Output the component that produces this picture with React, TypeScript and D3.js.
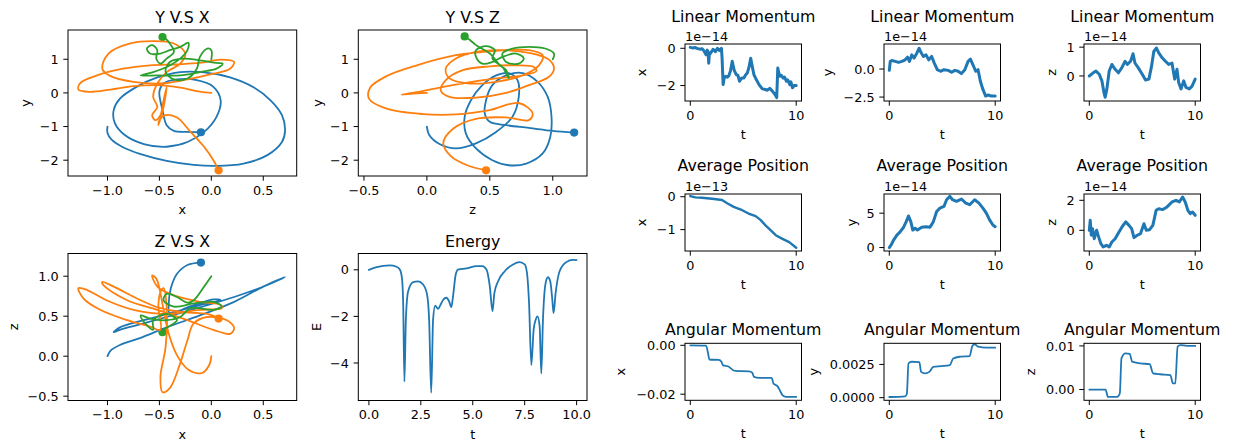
import React from "react";
import * as d3 from "d3";

type P = [number, number];

const BLUE = "#1f77b4";
const ORANGE = "#ff7f0e";
const GREEN = "#2ca02c";

// trajectories, last point = final position (dot)
// Y vs X  -> [x, y]
const blueXY: P[] = [[-1, -1], [-1.0, -1.19], [-0.96, -1.39], [-0.86, -1.6], [-0.68, -1.82], [-0.43, -2.02], [-0.17, -2.14], [0.05, -2.17], [0.31, -2.1], [0.54, -1.85], [0.68, -1.46], [0.71, -1.11], [0.68, -0.66], [0.57, -0.22], [0.41, 0.16], [0.18, 0.46], [-0.07, 0.61], [-0.3, 0.62], [-0.52, 0.46], [-0.72, 0.18], [-0.88, -0.17], [-0.94, -0.51], [-0.93, -0.89], [-0.83, -1.26], [-0.65, -1.52], [-0.43, -1.6], [-0.23, -1.46], [-0.07, -1.16], [0.05, -0.71], [0.09, -0.22], [0.02, 0.18], [-0.14, 0.38], [-0.33, 0.4], [-0.46, 0.28], [-0.5, 0.03], [-0.47, -0.51], [-0.43, -0.96], [-0.36, -1.13], [-0.23, -1.16], [-0.1, -1.17]];
const orangeXY: P[] = [[0, 0], [-0.11, 0.04], [-0.3, 0.16], [-0.52, 0.23], [-0.75, 0.2], [-0.97, 0.1], [-1.17, 0.03], [-1.28, 0.1], [-1.26, 0.3], [-1.1, 0.52], [-0.85, 0.72], [-0.59, 0.82], [-0.33, 0.85], [-0.11, 0.89], [0.09, 0.99], [0.22, 0.92], [0.18, 0.72], [0.02, 0.57], [-0.23, 0.4], [-0.49, 0.28], [-0.75, 0.33], [-0.97, 0.5], [-1.05, 0.72], [-0.99, 1.17], [-0.78, 1.47], [-0.56, 1.54], [-0.36, 1.47], [-0.25, 1.17], [-0.3, 0.87], [-0.43, 0.62], [-0.52, 0.28], [-0.56, -0.12], [-0.52, -0.42], [-0.57, -0.66], [-0.54, -0.81], [-0.49, -0.66], [-0.46, -0.22], [-0.43, 0.18], [-0.46, -0.42], [-0.51, -0.96], [-0.5, -0.81], [-0.44, -0.66], [-0.33, -0.73], [-0.2, -1.16], [-0.07, -1.6], [0.02, -2.0], [0.07, -2.3]];
const greenXY: P[] = [[0, 1], [0, 1.27], [-0.04, 1.32], [-0.11, 1.07], [-0.14, 0.72], [-0.23, 0.43], [-0.36, 0.4], [-0.44, 0.62], [-0.4, 0.92], [-0.27, 1.02], [-0.11, 0.97], [0.05, 0.89], [0.11, 0.87], [0.05, 0.72], [-0.11, 0.62], [-0.3, 0.52], [-0.52, 0.52], [-0.68, 0.52], [-0.56, 0.62], [-0.43, 0.77], [-0.3, 1.02], [-0.23, 1.27], [-0.22, 1.49], [-0.3, 1.37], [-0.4, 1.27], [-0.49, 1.17], [-0.59, 1.17], [-0.62, 1.32], [-0.57, 1.42], [-0.52, 1.27], [-0.53, 1.02], [-0.49, 0.87], [-0.43, 1.02], [-0.36, 1.22], [-0.4, 1.47], [-0.44, 1.61], [-0.47, 1.66]];

// Y vs Z -> [z, y]
const blueZY: P[] = [[0, -1], [0.02, -1.26], [0.1, -1.52], [0.23, -1.65], [0.39, -1.5], [0.55, -1.16], [0.68, -0.71], [0.73, -0.12], [0.72, 0.38], [0.65, 0.59], [0.55, 0.52], [0.44, 0.23], [0.35, -0.22], [0.3, -0.71], [0.31, -1.21], [0.39, -1.65], [0.52, -2.0], [0.65, -2.15], [0.79, -2.1], [0.92, -1.8], [0.98, -1.31], [0.99, -0.71], [0.96, -0.12], [0.88, 0.33], [0.76, 0.59], [0.63, 0.52], [0.52, 0.23], [0.47, -0.22], [0.46, -0.61], [0.5, -0.86], [0.63, -0.96], [0.81, -1.04], [1.0, -1.13], [1.17, -1.18]];
const orangeZY: P[] = [[0, 0], [-0.08, -0.01], [-0.2, -0.05], [-0.08, 0.02], [0.1, 0.16], [0.31, 0.3], [0.55, 0.43], [0.76, 0.52], [0.87, 0.65], [0.85, 0.77], [0.71, 0.82], [0.5, 0.79], [0.28, 0.67], [0.15, 0.38], [0.11, 0.08], [0.18, -0.12], [0.39, -0.14], [0.63, 0], [0.81, 0.23], [0.97, 0.48], [1.01, 0.72], [0.97, 0.99], [0.81, 1.19], [0.6, 1.27], [0.39, 1.22], [0.23, 1.02], [0.15, 0.72], [0.18, 0.43], [0.34, 0.28], [0.55, 0.33], [0.76, 0.52], [0.89, 0.82], [0.92, 1.12], [0.81, 1.27], [0.55, 1.25], [0.23, 1.12], [-0.08, 0.82], [-0.32, 0.5], [-0.45, 0.16], [-0.46, -0.17], [-0.32, -0.47], [-0.03, -0.63], [0.23, -0.64], [0.5, -0.51], [0.73, -0.3], [0.84, -0.61], [0.81, -0.81], [0.63, -0.73], [0.39, -0.77], [0.21, -1.06], [0.13, -1.5], [0.19, -1.88], [0.32, -2.15], [0.47, -2.3]];
const greenZY: P[] = [[1, 1], [1.01, 1.17], [0.94, 1.32], [0.81, 1.37], [0.68, 1.32], [0.6, 1.17], [0.63, 0.92], [0.73, 0.87], [0.77, 1.02], [0.71, 1.17], [0.6, 1.07], [0.52, 0.92], [0.44, 0.87], [0.39, 1.07], [0.39, 1.27], [0.47, 1.39], [0.54, 1.27], [0.52, 1.02], [0.6, 0.77], [0.65, 0.43], [0.63, 0.67], [0.58, 0.82], [0.5, 1.17], [0.39, 1.42], [0.34, 1.58], [0.3, 1.68]];

// Z vs X -> [x, z]
const blueXZ: P[] = [[-1, 0], [-0.97, 0.07], [-0.88, 0.14], [-0.68, 0.23], [-0.43, 0.36], [-0.11, 0.51], [0.22, 0.68], [0.5, 0.87], [0.71, 0.99], [0.54, 0.89], [0.22, 0.74], [-0.11, 0.61], [-0.43, 0.49], [-0.68, 0.4], [-0.88, 0.33], [-0.94, 0.3], [-0.88, 0.36], [-0.65, 0.45], [-0.36, 0.55], [-0.11, 0.64], [0.09, 0.7], [0.02, 0.71], [-0.23, 0.61], [-0.4, 0.53], [-0.41, 0.66], [-0.39, 0.85], [-0.33, 1.03], [-0.23, 1.14], [-0.1, 1.17]];
const orangeXZ: P[] = [[0, 0], [-0.02, -0.11], [-0.09, -0.21], [-0.22, -0.17], [-0.33, 0.01], [-0.41, 0.28], [-0.46, 0.58], [-0.5, 0.85], [-0.53, 0.97], [-0.57, 1.01], [-0.52, 0.87], [-0.36, 0.76], [-0.11, 0.68], [0.09, 0.64], [0.1, 0.6], [-0.11, 0.58], [-0.43, 0.53], [-0.75, 0.58], [-1.01, 0.7], [-1.2, 0.83], [-1.28, 0.85], [-1.23, 0.72], [-1.07, 0.58], [-0.81, 0.45], [-0.59, 0.37], [-0.49, 0.33], [-0.51, 0.62], [-0.49, 0.8], [-0.46, 0.85], [-0.43, 0.62], [-0.44, 0.12], [-0.49, -0.26], [-0.47, -0.45], [-0.4, -0.4], [-0.3, -0.09], [-0.23, 0.2], [-0.17, 0.41], [-0.04, 0.49], [0.15, 0.45], [0.22, 0.35], [0.18, 0.28], [0.02, 0.33], [-0.23, 0.45], [-0.52, 0.58], [-0.81, 0.7], [-1.04, 0.89], [-1.05, 0.93], [-0.94, 0.87], [-0.68, 0.7], [-0.49, 0.6], [-0.27, 0.55], [-0.04, 0.53], [0.05, 0.49], [0.07, 0.47]];
const greenXZ: P[] = [[0, 1], [-0.07, 0.87], [-0.17, 0.7], [-0.23, 0.67], [-0.33, 0.74], [-0.43, 0.78], [-0.46, 0.7], [-0.36, 0.62], [-0.17, 0.66], [0.02, 0.68], [0.1, 0.62], [0.02, 0.58], [-0.2, 0.6], [-0.3, 0.49], [-0.43, 0.45], [-0.59, 0.47], [-0.68, 0.51], [-0.65, 0.43], [-0.56, 0.33], [-0.56, 0.45], [-0.43, 0.53], [-0.33, 0.45], [-0.36, 0.41], [-0.46, 0.33], [-0.47, 0.3]];

// energy
const energyT = [0, 0.37, 1.0, 1.33, 1.49, 1.59, 1.65, 1.71, 1.78, 1.89, 2.13, 2.37, 2.61, 2.8, 2.9, 3.0, 3.09, 3.19, 3.33, 3.45, 3.62, 3.73, 3.86, 3.97, 4.05, 4.18, 4.29, 4.7, 5.18, 5.46, 5.66, 5.82, 5.95, 6.04, 6.22, 6.54, 6.94, 7.26, 7.5, 7.61, 7.71, 7.82, 7.93, 8.03, 8.12, 8.22, 8.3, 8.38, 8.51, 8.62, 8.73, 8.83, 8.89, 8.99, 9.18, 9.5, 9.82, 10];
const energyE = [0, 0.12, 0.19, 0.13, 0.01, -0.35, -1.42, -4.8, -2.14, -0.92, -0.53, -0.5, -0.63, -1.06, -2.14, -5.28, -2.14, -1.54, -1.68, -1.5, -1.24, -1.2, -1.35, -1.6, -1.14, -0.2, 0.01, 0.06, 0.16, 0.16, 0.01, -0.7, -1.78, -1.0, -0.49, -0.06, 0.23, 0.33, 0.23, -0.13, -1.42, -4.09, -2.58, -2.14, -2.0, -2.43, -4.45, -2.14, -0.56, -0.32, -0.49, -1.28, -1.86, -0.99, -0.06, 0.33, 0.43, 0.42];

// linear momentum [t, value / 1e-14]
const linMomX: P[] = [[0, 0.05], [0.2, 0.02], [0.47, 0.04], [0.7, -0.02], [0.95, -0.05], [1.1, -0.02], [1.27, -0.12], [1.49, -0.35], [1.6, -0.1], [1.68, -0.18], [1.74, -0.8], [1.8, -0.3], [1.9, -0.27], [2.15, -0.05], [2.37, -0.18], [2.56, 0], [2.75, -0.12], [2.94, 0], [3.0, -0.5], [3.1, -1.95], [3.2, -1.6], [3.32, -1.5], [3.5, -1.55], [3.64, -1.47], [3.8, -1.2], [3.96, -0.7], [4.15, -1.19], [4.34, -1.42], [4.5, -1.45], [4.65, -1.77], [4.85, -1.6], [5.06, -1.6], [5.2, -1.45], [5.38, -1.33], [5.55, -1.0], [5.7, -0.53], [5.85, -0.97], [6.01, -1.42], [6.23, -1.68], [6.49, -1.95], [6.8, -2.18], [7.0, -2.2], [7.28, -2.25], [7.5, -2.15], [7.75, -2.3], [8.0, -2.48], [8.16, -2.65], [8.26, -1.06], [8.35, -1.3], [8.45, -1.5], [8.6, -1.45], [8.77, -1.6], [8.9, -1.55], [9.08, -1.77], [9.2, -1.7], [9.4, -1.95], [9.5, -1.8], [9.65, -2.12], [9.8, -2.0], [10, -2.0]];
const linMomY: P[] = [[0, -0.12], [0.09, 0.68], [0.25, 0.76], [0.56, 0.68], [0.875, 0.59], [1.19, 0.68], [1.5, 0.82], [1.72, 1.06], [1.9, 0.68], [2.12, 1.26], [2.34, 0.97], [2.6, 1.41], [2.81, 1.85], [3.0, 1.47], [3.22, 1.12], [3.47, 1.26], [3.72, 0.82], [4.0, 1.12], [4.25, 0.53], [4.53, -0.06], [4.84, -0.2], [5.16, -0.06], [5.56, -0.12], [5.88, -0.29], [6.19, -0.12], [6.5, -0.2], [6.81, -0.41], [7.13, -0.06], [7.44, 0.68], [7.66, 0.88], [7.9, 0.38], [8.16, -0.2], [8.38, -0.06], [8.6, -1.09], [8.84, -1.82], [9.1, -2.41], [9.3, -2.32], [9.63, -2.41], [10, -2.41]];
const linMomZ: P[] = [[0, 0], [0.31, 0.09], [0.63, 0.17], [0.94, 0.06], [1.19, -0.17], [1.38, -0.57], [1.5, -0.74], [1.66, -0.45], [1.88, 0.17], [2.13, 0.4], [2.44, 0.23], [2.75, 0.11], [3.06, 0.28], [3.38, 0.51], [3.59, 0.4], [3.9, 0.51], [4.13, 0.77], [4.31, 0.45], [4.63, 0.28], [5.0, 0.06], [5.31, -0.14], [5.63, -0.11], [5.88, 0.34], [6.09, 0.85], [6.34, 0.97], [6.56, 0.8], [6.88, 0.63], [7.19, 0.51], [7.5, 0.4], [7.81, 0.45], [8.06, -0.11], [8.28, 0.23], [8.44, -0.23], [8.66, -0.45], [8.91, -0.17], [9.13, -0.4], [9.44, -0.45], [9.69, -0.36], [10, -0.11]];

// average position [t, value / 1e-13 or 1e-14]
const avgPosX: P[] = [[0, 0.02], [0.47, -0.02], [1.1, -0.03], [2.06, -0.06], [3.0, -0.1], [3.48, -0.2], [4.1, -0.31], [4.9, -0.41], [5.5, -0.51], [6.17, -0.59], [6.65, -0.71], [7.1, -0.87], [7.6, -1.02], [8.07, -1.17], [8.7, -1.28], [9.34, -1.38], [10, -1.55]];
const avgPosY: P[] = [[0, 0], [0.16, 0.34], [0.4, 1.08], [0.72, 1.81], [1.03, 2.3], [1.34, 2.94], [1.6, 3.77], [1.81, 4.6], [2.03, 3.77], [2.22, 2.55], [2.44, 2.8], [2.66, 2.55], [3.06, 2.94], [3.47, 3.04], [3.84, 2.94], [4.16, 3.77], [4.47, 5.25], [4.78, 5.74], [5.16, 5.98], [5.41, 6.96], [5.72, 7.45], [5.97, 6.96], [6.34, 6.72], [6.81, 7.06], [7.22, 6.47], [7.59, 6.23], [8.06, 6.96], [8.47, 6.47], [8.84, 5.74], [9.16, 5.0], [9.47, 4.02], [9.78, 3.28], [10, 3.04]];
const avgPosZ: P[] = [[0, 0], [0.09, 0.67], [0.19, -0.33], [0.31, 0.11], [0.47, -0.56], [0.69, 0], [0.88, -0.44], [1.09, -0.89], [1.31, -1.11], [1.63, -1.0], [1.88, -1.11], [2.13, -0.78], [2.44, -0.56], [2.75, -0.18], [3.13, 0.27], [3.44, 0.56], [3.75, 0.33], [4.0, 0.11], [4.22, -0.49], [4.53, -0.33], [4.84, -0.22], [5.16, 0.44], [5.38, 0], [5.69, 0.04], [6.0, 0.33], [6.31, 1.33], [6.56, 1.44], [6.94, 1.38], [7.34, 1.56], [7.81, 1.89], [8.19, 2.0], [8.5, 1.89], [8.81, 2.22], [9.06, 1.89], [9.31, 1.33], [9.53, 1.11], [9.75, 1.22], [10, 1.0]];

// angular momentum [t, value]
const angMomX: P[] = [[0, 0], [1.49, -0.0001], [1.68, -0.0033], [1.8, -0.0058], [2.69, -0.006], [2.94, -0.0067], [3.07, -0.0081], [3.64, -0.0088], [4.02, -0.0101], [4.27, -0.0105], [5.54, -0.0107], [5.85, -0.0112], [6.01, -0.0129], [6.49, -0.0133], [7.69, -0.0133], [7.85, -0.0156], [8.23, -0.0167], [8.45, -0.0184], [8.7, -0.0204], [9.02, -0.0211], [10, -0.0211]];
const angMomY: P[] = [[0, 0.00005], [1.5, 0.0001], [1.66, 0.0003], [1.81, 0.00258], [2.13, 0.0027], [2.84, 0.00268], [3.0, 0.00194], [3.38, 0.00182], [3.78, 0.00194], [4.16, 0.00232], [4.94, 0.00237], [5.72, 0.00245], [6.03, 0.00295], [6.66, 0.00308], [7.59, 0.00313], [7.84, 0.00389], [8.06, 0.00402], [8.38, 0.00384], [9.16, 0.00376], [10, 0.00376]];
const angMomZ: P[] = [[0, 0], [1.54, 0], [1.76, -0.0017], [2.63, -0.0017], [2.88, -0.0009], [3.04, 0.0072], [3.42, 0.0083], [3.82, 0.0082], [4.04, 0.0064], [4.83, 0.006], [5.71, 0.0058], [6.02, 0.0037], [6.71, 0.0035], [7.65, 0.0033], [7.9, 0.0014], [8.12, 0.0014], [8.34, 0.0098], [8.59, 0.0102], [9.22, 0.01], [10, 0.01]];

const tTicks = [0, 10];

type Series = { pts: P[]; color: string; width: number; curve: d3.CurveFactory; dot?: boolean };
type PanelDef = {
  id: string;
  box: [number, number, number, number];
  xDomain: [number, number];
  yDomain: [number, number];
  xTicks: number[];
  yTicks: number[];
  xFmt: (v: number) => string;
  yFmt: (v: number) => string;
  title: string;
  titleGap: number;
  xLabel: string;
  yLabel: string;
  yLabelX: number;
  offset?: string;
  series: Series[];
};

const FONT = "DejaVu Sans, Liberation Sans, sans-serif";
const TICK_FS = 12.8;
const TITLE_FS = 15.8;
const TICK_LEN = 4.7;
const TICK_PAD = 4.7;

const f1 = d3.format(".1f");
const f0 = d3.format("d");
const f2 = d3.format(".2f");
const f4 = d3.format(".4f");
const smooth = d3.curveCatmullRom.alpha(0.5);
const traj = (pts: P[], color: string): Series => ({ pts, color, width: 1.8, curve: smooth, dot: true });
const pairs = (t: number[], v: number[]): P[] => t.map((d, i) => [d, v[i]]);

const L = [68, 358.3];
const LW = 228.7;
const R = [685, 884, 1084];
const RW = 116.5;
const RT = [44, 194, 343.3];
const RH = 57;

const panels: PanelDef[] = [
  { id: "yx", box: [L[0], 30, LW, 146], xDomain: [-1.38, 0.822], yDomain: [-2.47, 1.87], xTicks: [-1, -0.5, 0, 0.5], yTicks: [-2, -1, 0, 1], xFmt: f1, yFmt: f0, title: "Y V.S X", titleGap: 6.8, xLabel: "x", yLabel: "y", yLabelX: 25.7, series: [traj(blueXY, BLUE), traj(orangeXY, ORANGE), traj(greenXY, GREEN)] },
  { id: "yz", box: [L[1], 30, LW, 146], xDomain: [-0.545, 1.272], yDomain: [-2.47, 1.87], xTicks: [-0.5, 0, 0.5, 1], yTicks: [-2, -1, 0, 1], xFmt: f1, yFmt: f0, title: "Y V.S Z", titleGap: 6.8, xLabel: "z", yLabel: "y", yLabelX: 318, series: [traj(blueZY, BLUE), traj(orangeZY, ORANGE), traj(greenZY, GREEN)] },
  { id: "zx", box: [L[0], 253.5, LW, 147], xDomain: [-1.38, 0.822], yDomain: [-0.554, 1.284], xTicks: [-1, -0.5, 0, 0.5], yTicks: [-0.5, 0, 0.5, 1], xFmt: f1, yFmt: f1, title: "Z V.S X", titleGap: 6.8, xLabel: "x", yLabel: "z", yLabelX: 14, series: [traj(blueXZ, BLUE), traj(orangeXZ, ORANGE), traj(greenXZ, GREEN)] },
  { id: "en", box: [L[1], 253.5, LW, 147], xDomain: [-0.51, 10.5], yDomain: [-5.61, 0.7], xTicks: [0, 2.5, 5, 7.5, 10], yTicks: [-4, -2, 0], xFmt: f1, yFmt: f0, title: "Energy", titleGap: 6.8, xLabel: "t", yLabel: "E", yLabelX: 316.7, series: [{ pts: pairs(energyT, energyE), color: BLUE, width: 1.8, curve: d3.curveMonotoneX }] },
  { id: "lmx", box: [R[0], RT[0], RW, RH], xDomain: [-0.5, 10.5], yDomain: [-2.83, 0.23], xTicks: tTicks, yTicks: [-2, 0], xFmt: f0, yFmt: f0, title: "Linear Momentum", titleGap: 22, offset: "1e\u221214", xLabel: "t", yLabel: "x", yLabelX: 642.3, series: [{ pts: linMomX, color: BLUE, width: 3, curve: d3.curveLinear }] },
  { id: "lmy", box: [R[1], RT[0], RW, RH], xDomain: [-0.5, 10.5], yDomain: [-2.85, 2.23], xTicks: tTicks, yTicks: [-2.5, 0], xFmt: f0, yFmt: f1, title: "Linear Momentum", titleGap: 22, offset: "1e\u221214", xLabel: "t", yLabel: "y", yLabelX: 828.3, series: [{ pts: linMomY, color: BLUE, width: 3, curve: d3.curveLinear }] },
  { id: "lmz", box: [R[2], RT[0], RW, RH], xDomain: [-0.5, 10.5], yDomain: [-0.87, 1.11], xTicks: tTicks, yTicks: [0, 1], xFmt: f0, yFmt: f0, title: "Linear Momentum", titleGap: 22, offset: "1e\u221214", xLabel: "t", yLabel: "z", yLabelX: 1052.3, series: [{ pts: linMomZ, color: BLUE, width: 3, curve: d3.curveLinear }] },
  { id: "apx", box: [R[0], RT[1], RW, RH], xDomain: [-0.5, 10.5], yDomain: [-1.65, 0.083], xTicks: tTicks, yTicks: [-1, 0], xFmt: f0, yFmt: f0, title: "Average Position", titleGap: 23, offset: "1e\u221213", xLabel: "t", yLabel: "x", yLabelX: 642.3, series: [{ pts: avgPosX, color: BLUE, width: 2.4, curve: d3.curveLinear }] },
  { id: "apy", box: [R[1], RT[1], RW, RH], xDomain: [-0.5, 10.5], yDomain: [-0.5, 7.79], xTicks: tTicks, yTicks: [0, 5], xFmt: f0, yFmt: f0, title: "Average Position", titleGap: 23, offset: "1e\u221214", xLabel: "t", yLabel: "y", yLabelX: 851.7, series: [{ pts: avgPosY, color: BLUE, width: 3, curve: d3.curveLinear }] },
  { id: "apz", box: [R[2], RT[1], RW, RH], xDomain: [-0.5, 10.5], yDomain: [-1.38, 2.42], xTicks: tTicks, yTicks: [0, 2], xFmt: f0, yFmt: f0, title: "Average Position", titleGap: 23, offset: "1e\u221214", xLabel: "t", yLabel: "z", yLabelX: 1052.3, series: [{ pts: avgPosZ, color: BLUE, width: 3, curve: d3.curveLinear }] },
  { id: "amx", box: [R[0], RT[2], RW, RH], xDomain: [-0.5, 10.5], yDomain: [-0.0225, 0.00082], xTicks: tTicks, yTicks: [-0.02, 0], xFmt: f0, yFmt: f2, title: "Angular Momentum", titleGap: 8.8, xLabel: "t", yLabel: "x", yLabelX: 621, series: [{ pts: angMomX, color: BLUE, width: 1.8, curve: d3.curveMonotoneX }] },
  { id: "amy", box: [R[1], RT[2], RW, RH], xDomain: [-0.5, 10.5], yDomain: [-0.0002, 0.00409], xTicks: tTicks, yTicks: [0, 0.0025], xFmt: f0, yFmt: f4, title: "Angular Momentum", titleGap: 8.8, xLabel: "t", yLabel: "y", yLabelX: 814.3, series: [{ pts: angMomY, color: BLUE, width: 1.8, curve: d3.curveMonotoneX }] },
  { id: "amz", box: [R[2], RT[2], RW, RH], xDomain: [-0.5, 10.5], yDomain: [-0.00247, 0.0106], xTicks: tTicks, yTicks: [0, 0.01], xFmt: f0, yFmt: f2, title: "Angular Momentum", titleGap: 8.8, xLabel: "t", yLabel: "z", yLabelX: 1030.7, series: [{ pts: angMomZ, color: BLUE, width: 1.8, curve: d3.curveMonotoneX }] },
];

function Panel({ p }: { p: PanelDef }) {
  const [x0, y0, w, h] = p.box;
  const x = d3.scaleLinear().domain(p.xDomain).range([x0, x0 + w]);
  const y = d3.scaleLinear().domain(p.yDomain).range([y0 + h, y0]);
  const clip = `clip-${p.id}`;
  return (
    <g fontFamily={FONT} fill="#000">
      <clipPath id={clip}>
        <rect x={x0} y={y0} width={w} height={h} />
      </clipPath>
      {/* scatter sits under the lines, like matplotlib's zorder */}
      {p.series.filter(s => s.dot).map((s, i) => {
        const last = s.pts[s.pts.length - 1];
        return <circle key={"d" + i} cx={x(last[0])} cy={y(last[1])} r={4.1} fill={s.color} />;
      })}
      <g clipPath={`url(#${clip})`}>
        {p.series.map((s, i) => {
          const line = d3.line<P>().x(d => x(d[0])).y(d => y(d[1])).curve(s.curve);
          return <path key={i} d={line(s.pts) || ""} fill="none" stroke={s.color} strokeWidth={s.width} strokeLinejoin="round" strokeLinecap="round" />;
        })}
      </g>
      <rect x={x0} y={y0} width={w} height={h} fill="none" stroke="#000" strokeWidth={1} />
      {p.xTicks.map(t => (
        <g key={"x" + t}>
          <line x1={x(t)} x2={x(t)} y1={y0 + h} y2={y0 + h + TICK_LEN} stroke="#000" strokeWidth={1} />
          <text x={x(t)} y={y0 + h + TICK_LEN + TICK_PAD + 0.74 * TICK_FS} fontSize={TICK_FS} textAnchor="middle">{p.xFmt(t)}</text>
        </g>
      ))}
      {p.yTicks.map(t => (
        <g key={"y" + t}>
          <line x1={x0 - TICK_LEN} x2={x0} y1={y(t)} y2={y(t)} stroke="#000" strokeWidth={1} />
          <text x={x0 - TICK_LEN - TICK_PAD} y={y(t)} dy="0.36em" fontSize={TICK_FS} textAnchor="end">{p.yFmt(t)}</text>
        </g>
      ))}
      {p.offset && (
        <text x={x0} y={y0 - 3} fontSize={TICK_FS}>{p.offset}</text>
      )}
      <text x={x0 + w / 2} y={y0 - p.titleGap} fontSize={TITLE_FS} textAnchor="middle">{p.title}</text>
      <text x={x0 + w / 2} y={y0 + h + 38} fontSize={TICK_FS} textAnchor="middle">{p.xLabel}</text>
      <text transform={`translate(${p.yLabelX},${y0 + h / 2}) rotate(-90)`} dy="0.3em" fontSize={TICK_FS} textAnchor="middle">{p.yLabel}</text>
    </g>
  );
}

export default function App() {
  return (
    <svg width={1238} height={442} style={{ position: "absolute", left: 0, top: 0, background: "#fff" }}>
      <rect width={1238} height={442} fill="#fff" />
      {panels.map(p => <Panel key={p.id} p={p} />)}
    </svg>
  );
}
